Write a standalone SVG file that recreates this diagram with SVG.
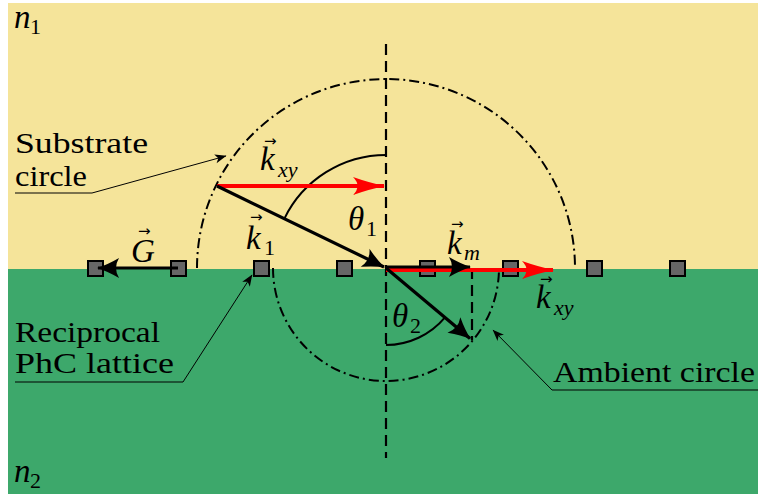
<svg xmlns="http://www.w3.org/2000/svg" width="758" height="494" viewBox="0 0 758 494">
<style>
.lbl{font-family:"Liberation Serif","DejaVu Serif",serif;font-size:29px;fill:#000}
.m{font-family:"Liberation Serif","DejaVu Serif",serif;font-style:italic;font-size:33px;fill:#000}
.s{font-family:"Liberation Serif","DejaVu Serif",serif;font-size:22px;fill:#000}
.si{font-family:"Liberation Serif","DejaVu Serif",serif;font-style:italic;font-size:22px;fill:#000}
.va{font-family:"DejaVu Sans",sans-serif;font-size:15px;fill:#000}
.dd{fill:none;stroke:#000;stroke-width:2;stroke-dasharray:10 4 2 4}
.da{fill:none;stroke:#000;stroke-width:2.2;stroke-dasharray:11 6}
.arc{fill:none;stroke:#000;stroke-width:2}
.sq{fill:#666;stroke:#000;stroke-width:2}
.kb{fill:none;stroke:#000;stroke-width:3.2}
.kr{fill:none;stroke:#f00;stroke-width:4}
.co{fill:none;stroke:#000;stroke-width:1}
</style>
<defs>
<marker id="ahb" markerUnits="userSpaceOnUse" viewBox="-24 -11 26 22" markerWidth="26" markerHeight="22" refX="0" refY="0" orient="auto">
<path d="M1,0 Q-9,-3 -21,-10 Q-15,0 -21,10 Q-9,3 1,0 Z" fill="#000"/>
</marker>
<marker id="ahr" markerUnits="userSpaceOnUse" viewBox="-34 -11 36 22" markerWidth="36" markerHeight="22" refX="0" refY="0" orient="auto">
<path d="M1,0 Q-14,-3 -31,-9 Q-22,0 -31,9 Q-14,3 1,0 Z" fill="#f00"/>
</marker>
<marker id="ahs" markerUnits="userSpaceOnUse" viewBox="-12 -5 13 10" markerWidth="13" markerHeight="10" refX="0" refY="0" orient="auto">
<path d="M0.5,0 L-11,-4.5 L-8,0 L-11,4.5 Z" fill="#000"/>
</marker>
</defs>

<rect x="8" y="3" width="750" height="266" fill="#F5E49A"/>
<rect x="8" y="269" width="750" height="225" fill="#3DA86B"/>

<g id="shapes">
<path class="dd" d="M197,268 A189,189 0 0 1 575,268"/>
<path class="dd" d="M273,268 A113,113 0 0 0 499,268"/>
<line class="da" x1="386" y1="44" x2="386" y2="458"/>
<line class="da" x1="472" y1="268" x2="472" y2="340"/>
<path class="arc" d="M386,155 A113,113 0 0 0 284.4,218.6"/>
<path class="arc" d="M386,345 A77,77 0 0 0 445,317.4"/>
</g>

<g id="lattice">
<g id="p1"><rect class="sq" x="88" y="261" width="15" height="15"/></g>
<g id="p2"><rect class="sq" x="171" y="261" width="15" height="15"/></g>
<g id="p3"><rect class="sq" x="254" y="261" width="15" height="15"/></g>
<g id="p4"><rect class="sq" x="337" y="261" width="15" height="15"/></g>
<g id="p5"><rect class="sq" x="420" y="261" width="15" height="15"/></g>
<g id="p6"><rect class="sq" x="503" y="261" width="15" height="15"/></g>
<g id="p7"><rect class="sq" x="587" y="261" width="15" height="15"/></g>
<g id="p8"><rect class="sq" x="670" y="261" width="15" height="15"/></g>
</g>

<g id="connectors">
<line class="kr" x1="217" y1="186" x2="384" y2="186" marker-end="url(#ahr)"/>
<line class="kb" x1="217" y1="186" x2="384" y2="267" marker-end="url(#ahb)"/>
<line class="kb" x1="178" y1="268" x2="98" y2="268" marker-end="url(#ahb)"/>
<line class="kr" x1="386" y1="270" x2="553" y2="270" marker-end="url(#ahr)"/>
<line class="kb" x1="386" y1="267" x2="470" y2="267" marker-end="url(#ahb)"/>
<line class="kb" x1="386" y1="268" x2="470" y2="338.5" marker-end="url(#ahb)"/>
<polyline class="co" points="15,193 92,193 226,156" marker-end="url(#ahs)"/>
<polyline class="co" points="15,382 183,382 252,275" marker-end="url(#ahs)"/>
<polyline class="co" points="758,390 552,390 493,330" marker-end="url(#ahs)"/>
</g>

<g id="labels">
<text class="m" x="14" y="28" font-size="29">n</text><text class="s" x="30" y="34">1</text>
<text class="m" x="14" y="482" font-size="29">n</text><text class="s" x="30" y="488">2</text>

<text class="lbl" x="15" y="153" textLength="133" lengthAdjust="spacingAndGlyphs">Substrate</text>
<text class="lbl" x="15" y="186" textLength="72" lengthAdjust="spacingAndGlyphs">circle</text>
<text class="lbl" x="15" y="342" textLength="145" lengthAdjust="spacingAndGlyphs">Reciprocal</text>
<text class="lbl" x="15" y="373" textLength="159" lengthAdjust="spacingAndGlyphs">PhC lattice</text>
<text class="lbl" x="553" y="382" textLength="202" lengthAdjust="spacingAndGlyphs">Ambient circle</text>

<text class="va" x="264" y="146">→</text><text class="m" x="260" y="170">k</text><text class="si" x="278" y="177">xy</text>
<text class="va" x="250" y="222">→</text><text class="m" x="246" y="249">k</text><text class="s" x="264" y="255">1</text>
<text class="va" x="138" y="236">→</text><text class="m" x="131" y="262">G</text>
<text class="va" x="451" y="229">→</text><text class="m" x="447" y="254">k</text><text class="si" x="464" y="260">m</text>
<text class="va" x="540" y="284">→</text><text class="m" x="536" y="308">k</text><text class="si" x="554" y="315">xy</text>
<text class="m" x="348" y="230">θ</text><text class="s" x="366" y="236">1</text>
<text class="m" x="392" y="327">θ</text><text class="s" x="410" y="333">2</text>
</g>
</svg>
